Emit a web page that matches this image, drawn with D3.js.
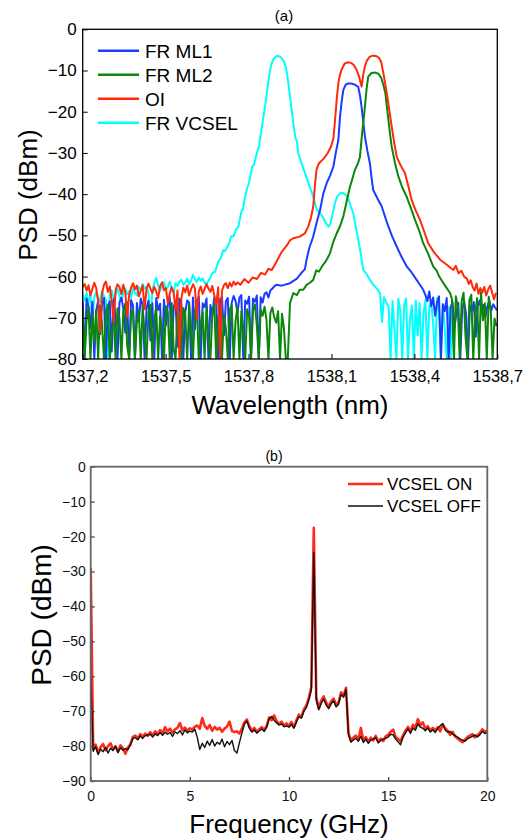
<!DOCTYPE html>
<html>
<head>
<meta charset="utf-8">
<script src="https://cdn.jsdelivr.net/npm/d3@7"></script>
<style>
body { margin: 0; background: #fff; }
text { font-family: "Liberation Sans", Arial, sans-serif; }
</style>
</head>
<body>
<div id="chart"></div>
<script>
// ---------- panel (a) data : optical spectra ----------
const wlTicks = [1537.2, 1537.5, 1537.8, 1538.1, 1538.4, 1538.7];
const psdTicksA = [0, -10, -20, -30, -40, -50, -60, -70, -80];
const seriesNamesA = ["FR ML1", "FR ML2", "OI", "FR VCSEL"];
const noiseStep = 0.007; // nm between noise-floor samples

// FR ML1 (blue)
const ml1LeftStart = 1537.2;
const ml1Left = [-66.0, -80.0, -65.4, -67.2, -72.5, -66.1, -80.0, -68.3, -65.8, -74.0,
  -66.7, -65.2, -80.0, -67.5, -66.0, -78.2, -65.5, -69.4, -80.0, -66.3,
  -65.1, -67.8, -73.6, -66.2, -80.0, -65.7, -67.0, -80.0, -66.4, -70.8,
  -65.3, -66.9, -80.0, -67.6, -65.9, -75.5, -66.5, -80.0, -65.2, -68.1,
  -66.6, -80.0, -65.6, -71.9, -66.8, -65.0, -80.0, -67.3, -66.1, -77.0,
  -65.4, -66.7, -80.0, -68.6, -65.8, -66.3, -80.0, -65.1, -72.8, -66.0,
  -64.8, -80.0, -66.5, -67.4, -65.3, -80.0, -66.9, -69.5, -65.0, -66.2,
  -80.0, -65.6, -64.9, -74.2, -66.0, -65.2, -80.0, -66.4, -64.7, -65.9,
  -68.8, -65.1, -64.5, -80.0, -65.8, -66.6, -64.9, -80.0, -65.3, -66.1,
  -64.6, -80.0, -65.0, -66.3, -64.2, -63.8, -65.1, -63.4, -62.9, -62.4, -62.0];
const ml1Peak = [[1537.92, -62.2], [1537.95, -61.6], [1537.975, -60.5], [1537.99, -59.2], [1538.004, -58.2],
  [1538.010, -55.9], [1538.02, -53], [1538.034, -50.3], [1538.046, -47], [1538.059, -43.8], [1538.07, -40],
  [1538.083, -37.3], [1538.095, -35.5], [1538.107, -33.3], [1538.117, -29.5], [1538.125, -26.8],
  [1538.131, -21.2], [1538.137, -17.5], [1538.143, -14.7], [1538.152, -13.4], [1538.162, -13.1],
  [1538.175, -13.2], [1538.186, -13.5], [1538.197, -14], [1538.203, -16], [1538.209, -18.8],
  [1538.215, -22.5], [1538.221, -26], [1538.230, -29.5], [1538.239, -32.5], [1538.245, -36],
  [1538.251, -39], [1538.266, -41], [1538.282, -43], [1538.294, -45.5], [1538.306, -47.9],
  [1538.320, -50.3], [1538.336, -52.7], [1538.352, -55], [1538.372, -57.5], [1538.39, -59],
  [1538.408, -60.8], [1538.42, -62], [1538.432, -63.2]];
const ml1RightStart = 1538.44;
const ml1Right = [-64.5, -66.0, -63.6, -67.2, -65.1, -69.5, -66.3, -64.8, -80.0, -66.7,
  -68.4, -65.2, -80.0, -67.6, -66.1, -72.3, -68.9, -66.4, -80.0, -67.8,
  -65.9, -69.1, -80.0, -67.0, -68.5, -66.2, -74.6, -67.4, -65.8, -68.0,
  -66.9, -69.8, -67.2, -65.9, -68.3, -66.7, -67.5, -68.2];

// FR ML2 (green)
const ml2LeftStart = 1537.2;
const ml2Left = [-68.0, -80.0, -70.5, -67.4, -80.0, -69.2, -75.8, -68.1, -80.0, -67.0,
  -71.6, -80.0, -68.5, -66.8, -80.0, -73.9, -69.0, -80.0, -67.7, -70.2,
  -80.0, -68.4, -66.5, -76.8, -80.0, -69.3, -67.9, -80.0, -71.0, -68.2,
  -80.0, -67.1, -74.5, -80.0, -68.8, -66.9, -80.0, -70.7, -67.5, -80.0,
  -69.6, -72.8, -80.0, -67.2, -68.7, -80.0, -66.4, -77.5, -80.0, -68.0,
  -70.3, -80.0, -67.6, -69.1, -80.0, -66.8, -73.2, -80.0, -68.3, -67.0,
  -80.0, -71.4, -68.6, -80.0, -67.3, -75.1, -80.0, -68.9, -66.6, -80.0,
  -70.0, -67.8, -80.0, -69.4, -72.6, -80.0, -68.1, -66.9, -80.0, -70.8,
  -67.4, -80.0, -68.5, -74.0, -80.0, -67.9, -69.7, -80.0, -68.2, -66.7,
  -71.9, -80.0, -68.0, -69.5, -67.3, -70.6, -80.0, -68.8, -67.5, -69.9,
  -71.2, -68.4, -80.0, -69.0, -72.5, -80.0];
const ml2Peak = [[1537.942, -80], [1537.95, -66.4], [1537.962, -64], [1537.975, -64.5], [1537.985, -63.2],
  [1537.998, -63.2], [1538.01, -62], [1538.022, -61.5], [1538.034, -60.8], [1538.045, -58.5],
  [1538.055, -58.8], [1538.066, -57.5], [1538.077, -56.5], [1538.086, -55.5], [1538.095, -54.3],
  [1538.107, -51.5], [1538.119, -49.5], [1538.131, -47.8], [1538.143, -45.4], [1538.155, -41.8],
  [1538.167, -38.2], [1538.176, -36.2], [1538.185, -34.1], [1538.196, -32.5], [1538.203, -31],
  [1538.207, -28], [1538.212, -24.5], [1538.215, -22.8], [1538.221, -18.8], [1538.227, -14.5],
  [1538.233, -11.5], [1538.245, -10.6], [1538.258, -10.5], [1538.270, -10.8], [1538.280, -11.8],
  [1538.288, -13.5], [1538.295, -15.5], [1538.300, -18.5], [1538.306, -22], [1538.312, -25.5],
  [1538.318, -28.5], [1538.330, -32.5], [1538.342, -35.7], [1538.357, -38.5], [1538.372, -40.6],
  [1538.388, -43.5], [1538.402, -46.2], [1538.418, -49], [1538.432, -51.9], [1538.45, -54.5],
  [1538.468, -57.5], [1538.48, -58.5], [1538.49, -60], [1538.505, -61.6], [1538.517, -62.8],
  [1538.529, -64]];
const ml2RightStart = 1538.536;
const ml2Right = [-65.5, -80.0, -64.8, -67.2, -80.0, -66.0, -63.9, -74.5, -80.0, -65.7,
  -64.4, -80.0, -68.9, -65.2, -80.0, -63.8, -70.6, -66.5, -80.0, -64.9,
  -67.8, -80.0, -70.2, -72.0];

// OI (red)
const oiLeftStart = 1537.2;
const oiLeft = [-62.5, -61.8, -63.4, -62.1, -64.6, -63.0, -61.5, -62.8, -66.2, -73.5,
  -64.1, -62.0, -61.2, -63.7, -62.4, -65.8, -71.0, -63.2, -61.9, -62.6,
  -64.3, -62.0, -63.8, -69.8, -64.5, -62.7, -61.6, -63.1, -62.2, -64.8,
  -63.5, -62.1, -67.9, -63.0, -61.7, -62.9, -64.0, -62.5, -63.6, -65.2,
  -62.3, -61.4, -63.3, -62.8, -66.5, -64.1, -62.6, -63.9, -68.2, -63.4,
  -80.0, -65.3, -62.7, -63.8, -62.2, -64.6, -63.1, -61.9, -62.8, -70.3,
  -63.6, -62.4, -64.2, -63.0, -61.8, -62.9, -63.7, -62.3, -64.5, -66.8,
  -62.6, -80.0, -63.4, -62.1, -61.6, -62.8, -61.5, -62.4, -61.2, -62.0, -61.4];
const oiPeak = [[1537.77, -62], [1537.785, -60.6], [1537.80, -61.5], [1537.815, -60.2], [1537.83, -60.6],
  [1537.845, -59.1], [1537.86, -59.5], [1537.872, -58.1], [1537.884, -58.4],
  [1537.90, -56.5], [1537.92, -54], [1537.938, -52.5], [1537.95, -51.2], [1537.962, -50.7],
  [1537.985, -50.3], [1538.004, -49.5], [1538.015, -48], [1538.025, -46], [1538.034, -43],
  [1538.040, -38], [1538.046, -34], [1538.055, -32.5], [1538.07, -31.5], [1538.085, -30.2],
  [1538.098, -28.5], [1538.107, -26.5], [1538.113, -22], [1538.119, -17], [1538.125, -13],
  [1538.131, -11], [1538.137, -9.7], [1538.148, -8.3], [1538.161, -8], [1538.172, -8.2],
  [1538.182, -8.8], [1538.192, -10], [1538.200, -11.5], [1538.209, -13.9], [1538.215, -11],
  [1538.221, -9], [1538.228, -7.6], [1538.238, -6.7], [1538.250, -6.4], [1538.262, -6.5],
  [1538.272, -6.9], [1538.280, -8], [1538.288, -10.7], [1538.295, -13.5], [1538.302, -16.3],
  [1538.310, -20], [1538.318, -23.6], [1538.327, -27.5], [1538.336, -30.9], [1538.350, -33],
  [1538.366, -34.9], [1538.378, -38], [1538.39, -41.4], [1538.405, -44], [1538.42, -46.2],
  [1538.435, -49], [1538.45, -51.9], [1538.47, -54], [1538.493, -55.9], [1538.515, -57],
  [1538.541, -58.4], [1538.55, -57.4], [1538.56, -59.2], [1538.57, -58.6], [1538.58, -60]];
const oiRightStart = 1538.59;
const oiRight = [-60.5, -61.8, -60.9, -62.6, -63.4, -61.7, -64.2, -62.8, -63.9, -62.5,
  -64.6, -63.1, -62.2, -63.8, -65.5, -64.0];

// FR VCSEL (cyan)
const vcLeftStart = 1537.2;
const vcLeft = [-64.5, -65.8, -63.9, -66.4, -64.2, -70.5, -65.0, -63.7, -64.9, -66.1,
  -63.5, -64.8, -65.6, -80.0, -64.1, -63.3, -65.2, -64.4, -63.0, -64.7,
  -66.0, -63.8, -62.9, -64.3, -63.6, -65.1, -62.8, -63.9, -64.6, -62.5,
  -63.4, -61.8, -63.0, -62.4, -64.0, -72.5, -63.2, -61.6, -60.3, -62.2,
  -63.5, -62.0, -61.4, -63.1, -62.6, -61.2, -62.9, -63.8, -61.6, -62.3,
  -61.2, -60.8, -62.0, -61.5, -60.5, -61.9, -61.0, -59.6, -60.7, -61.3,
  -60.2, -61.0, -60.4, -61.6];
const vcPeak = [[1537.649, -61.6], [1537.66, -60.5], [1537.67, -59.0], [1537.679, -58.9], [1537.69, -56.5],
  [1537.70, -55.5], [1537.708, -53.6], [1537.715, -53.8], [1537.73, -52], [1537.737, -50.2],
  [1537.745, -50.3], [1537.755, -48.6], [1537.763, -47.9], [1537.775, -44], [1537.78, -43.6],
  [1537.785, -41.5], [1537.793, -39], [1537.80, -37.6], [1537.805, -36.2], [1537.813, -33.4],
  [1537.82, -32.8], [1537.832, -29.5], [1537.838, -28.5],
  [1537.841, -26.8], [1537.850, -23], [1537.858, -19.5], [1537.868, -14.7], [1537.875, -11],
  [1537.882, -8.6], [1537.892, -7], [1537.905, -6.4], [1537.918, -6.8], [1537.928, -7.8],
  [1537.935, -9.1], [1537.942, -12], [1537.947, -14.7], [1537.955, -19], [1537.962, -22.8],
  [1537.970, -26.5], [1537.975, -27.2], [1537.980, -30.1], [1537.992, -32.5], [1538.004, -34.9], [1538.018, -37.5],
  [1538.034, -40.6], [1538.047, -43.8], [1538.058, -44.5], [1538.068, -45.5], [1538.080, -47],
  [1538.089, -47.9], [1538.097, -47], [1538.105, -44.5], [1538.113, -42], [1538.122, -40.5],
  [1538.131, -39.8], [1538.142, -39.7], [1538.152, -40.2], [1538.160, -41], [1538.170, -43],
  [1538.179, -44.6], [1538.188, -48], [1538.197, -51.1], [1538.206, -54.5], [1538.215, -58.3],
  [1538.228, -59.5], [1538.239, -60.8], [1538.252, -62], [1538.265, -63], [1538.276, -64],
  [1538.283, -71], [1538.29, -65], [1538.30, -66.5]];
const vcRightStart = 1538.307;
const vcRight = [-67.5, -80.0, -66.0, -72.8, -80.0, -65.4, -68.2, -80.0, -66.9, -65.3,
  -80.0, -70.1, -67.0, -80.0, -65.8, -74.3, -66.5, -80.0, -68.8, -65.6,
  -80.0, -67.3, -66.1, -71.5, -80.0, -65.2, -68.0, -80.0, -66.7, -73.0,
  -80.0, -67.4, -80.0, -69.5, -80.0];

// ---------- panel (b) data : RF spectra ----------
const freqTicks = [0, 5, 10, 15, 20];
const psdTicksB = [0, -10, -20, -30, -40, -50, -60, -70, -80, -90];
const seriesNamesB = ["VCSEL ON", "VCSEL OFF"];
const freqStep = 0.125; // GHz between samples, starting at 0
const vcselOn = [-29, -80.8, -79.6, -81.9, -80.3, -79.4, -81.2, -80.0, -79.2, -80.9,
  -80.1, -81.5, -79.8, -80.6, -82.2, -80.4, -79.5, -77.4, -77.0, -77.9,
  -76.6, -77.3, -76.4, -77.1, -76.0, -76.9, -75.8, -76.5, -75.4, -76.2,
  -74.6, -75.8, -75.0, -76.1, -75.2, -74.8, -73.4, -75.5, -74.7, -75.6,
  -74.9, -75.3, -74.5, -74.1, -75.0, -72.0, -74.2, -75.1, -74.0, -75.6,
  -74.5, -75.3, -74.8, -75.9, -75.0, -74.4, -73.0, -75.7, -76.0, -75.8,
  -76.4, -75.0, -73.2, -72.4, -74.3, -75.6, -74.8, -75.9, -75.2, -74.6,
  -75.4, -74.2, -71.8, -72.6, -71.2, -72.9, -73.6, -73.0, -74.1, -73.5,
  -74.2, -73.1, -74.5, -72.6, -71.0, -71.8, -69.5, -68.4, -66.2, -63.2,
  -17.5, -66.0, -69.2, -67.0, -65.8, -67.6, -68.8, -67.2, -66.4, -68.2,
  -67.5, -64.6, -65.6, -63.3, -76.2, -78.4, -77.6, -77.0, -78.2, -74.8,
  -78.5, -77.4, -78.8, -77.6, -78.4, -77.1, -78.7, -77.9, -78.6, -77.2,
  -76.8, -75.9, -75.3, -77.4, -78.0, -78.6, -76.9, -75.6, -74.5, -75.8,
  -73.9, -74.7, -72.3, -74.0, -73.2, -75.1, -74.3, -75.6, -74.8, -75.5,
  -74.6, -75.8, -73.8, -74.9, -75.6, -76.8, -75.9, -77.2, -77.8, -78.4,
  -78.9, -78.2, -77.4, -77.0, -76.6, -77.5, -76.9, -76.2, -75.2, -75.9, -75.6];
const vcselOff = [-60, -81.5, -80.2, -82.4, -80.9, -81.6, -80.4, -82.0, -80.6, -81.3,
  -80.0, -81.9, -80.5, -81.2, -80.7, -81.0, -79.8, -77.8, -77.6, -78.2,
  -77.1, -77.8, -77.0, -76.8, -76.6, -77.4, -76.5, -77.0, -76.2, -76.9,
  -76.0, -76.6, -76.1, -77.2, -75.9, -76.4, -75.6, -76.8, -75.4, -76.2,
  -75.7, -76.0, -75.2, -77.5, -81.0, -79.2, -80.4, -78.6, -79.8, -78.1,
  -80.0, -78.9, -79.5, -78.0, -80.2, -78.7, -79.6, -78.4, -81.3, -82.0,
  -79.0, -76.3, -73.8, -72.8, -74.9, -76.0, -75.4, -76.3, -75.7, -75.1,
  -75.8, -74.6, -72.2, -71.5, -72.6, -73.4, -74.0, -73.7, -74.5, -74.2,
  -74.6, -73.8, -74.9, -73.2, -71.6, -72.0, -70.0, -69.0, -66.8, -64.0,
  -24.5, -66.8, -69.6, -67.8, -66.5, -68.3, -69.3, -67.9, -67.0, -68.8,
  -68.0, -65.2, -66.0, -63.8, -76.8, -78.9, -78.2, -77.8, -78.6, -77.2,
  -79.0, -78.0, -79.2, -78.3, -78.0, -77.6, -79.1, -78.4, -78.0, -77.8,
  -77.4, -76.6, -76.8, -78.0, -78.8, -79.6, -77.5, -76.2, -75.1, -76.4,
  -74.8, -75.5, -73.6, -74.6, -74.9, -75.6, -74.8, -76.0, -75.3, -76.1,
  -75.0, -74.2, -73.5, -75.4, -76.0, -75.8, -76.6, -77.0, -77.4, -77.9,
  -78.3, -78.6, -77.9, -77.6, -77.2, -76.8, -77.4, -76.8, -75.8, -76.4, -76.1];

// ---------- helpers ----------
function onGrid(start, step, values) {
  return values.map((v, i) => [start + i * step, v]);
}
function buildSpectrum(leftStart, left, peak, rightStart, right) {
  return onGrid(leftStart, noiseStep, left).concat(peak, onGrid(rightStart, noiseStep, right));
}

const width = 531;
const height = 840;

const svg = d3.select('#chart')
  .append('svg')
  .attr('width', width)
  .attr('height', height);

// ================= panel (a) =================
const boxA = { left: 82.7, right: 497.3, top: 29.3, bottom: 359 };

const xA = d3.scaleLinear().domain([1537.2, 1538.7]).range([boxA.left, boxA.right]);
const yA = d3.scaleLinear().domain([-80, 0]).range([boxA.bottom, boxA.top]);

const colorA = { "FR ML1": "#1a3cff", "FR ML2": "#0b870b", "OI": "#ff2a0a", "FR VCSEL": "#00ffff" };
const spectraA = [
  { name: "FR VCSEL", data: buildSpectrum(vcLeftStart, vcLeft, vcPeak, vcRightStart, vcRight) },
  { name: "FR ML1", data: buildSpectrum(ml1LeftStart, ml1Left, ml1Peak, ml1RightStart, ml1Right) },
  { name: "FR ML2", data: buildSpectrum(ml2LeftStart, ml2Left, ml2Peak, ml2RightStart, ml2Right) },
  { name: "OI", data: buildSpectrum(oiLeftStart, oiLeft, oiPeak, oiRightStart, oiRight) }
];

svg.append('clipPath').attr('id', 'clipA')
  .append('rect')
  .attr('x', boxA.left).attr('y', boxA.top)
  .attr('width', boxA.right - boxA.left).attr('height', boxA.bottom - boxA.top);

const lineA = d3.line().x(d => xA(d[0])).y(d => yA(d[1]));

svg.append('g').attr('clip-path', 'url(#clipA)')
  .selectAll('path')
  .data(spectraA)
  .enter().append('path')
  .attr('d', d => lineA(d.data))
  .attr('fill', 'none')
  .attr('stroke', d => colorA[d.name])
  .attr('stroke-width', 2)
  .attr('stroke-linejoin', 'round');

// axes (a)
const axisA_x = svg.append('g')
  .attr('transform', `translate(0,${boxA.bottom})`)
  .call(d3.axisBottom(xA).tickValues(wlTicks).tickSize(-5).tickPadding(11)
    .tickFormat(d => d3.format('.1f')(d).replace('.', ',')));
const axisA_y = svg.append('g')
  .attr('transform', `translate(${boxA.left},0)`)
  .call(d3.axisLeft(yA).tickValues(psdTicksA).tickSize(-5).tickPadding(6).tickFormat(d3.format('d')));
[axisA_x, axisA_y].forEach(g => {
  g.select('.domain').remove();
  g.selectAll('text').attr('fill', '#000')
    .attr('font-family', '"Liberation Sans", Arial, sans-serif');
  g.selectAll('line').attr('stroke', '#000');
});
axisA_x.selectAll('text').attr('font-size', 16.5);
axisA_y.selectAll('text').attr('font-size', 17);

svg.append('rect')
  .attr('x', boxA.left).attr('y', boxA.top)
  .attr('width', boxA.right - boxA.left).attr('height', boxA.bottom - boxA.top)
  .attr('fill', 'none').attr('stroke', '#000').attr('stroke-width', 1.3);

svg.append('text').attr('x', 284).attr('y', 21).attr('text-anchor', 'middle')
  .attr('font-size', 15).text('(a)');
svg.append('text').attr('x', 290).attr('y', 414).attr('text-anchor', 'middle')
  .attr('font-size', 26).text('Wavelength (nm)');
svg.append('text').attr('transform', 'translate(37,195) rotate(-90)').attr('text-anchor', 'middle')
  .attr('font-size', 26).text('PSD (dBm)');

// legend (a)
const legA = svg.append('g').selectAll('g')
  .data(seriesNamesA)
  .enter().append('g')
  .attr('transform', (d, i) => `translate(98,${50.7 + i * 24})`);
legA.append('line').attr('x1', 0).attr('x2', 41)
  .attr('stroke', d => colorA[d]).attr('stroke-width', 2.5);
legA.append('text').attr('x', 47).attr('y', 7).attr('font-size', 19).text(d => d);

// ================= panel (b) =================
const boxB = { left: 90.7, right: 487.3, top: 466.7, bottom: 781 };

const xB = d3.scaleLinear().domain([0, 20]).range([boxB.left, boxB.right]);
const yB = d3.scaleLinear().domain([-90, 0]).range([boxB.bottom, boxB.top]);

const spectraB = [
  { name: seriesNamesB[0], color: "#ff2a1a", width: 2.6, data: onGrid(0, freqStep, vcselOn) },
  { name: seriesNamesB[1], color: "#111", width: 1.4, data: onGrid(0, freqStep, vcselOff) }
];

svg.append('clipPath').attr('id', 'clipB')
  .append('rect')
  .attr('x', boxB.left).attr('y', boxB.top)
  .attr('width', boxB.right - boxB.left).attr('height', boxB.bottom - boxB.top);

const lineB = d3.line().x(d => xB(d[0])).y(d => yB(d[1]));

svg.append('g').attr('clip-path', 'url(#clipB)')
  .selectAll('path')
  .data(spectraB)
  .enter().append('path')
  .attr('d', d => lineB(d.data))
  .attr('fill', 'none')
  .attr('stroke', d => d.color)
  .attr('stroke-width', d => d.width)
  .attr('stroke-linejoin', 'round');

const axisB_x = svg.append('g')
  .attr('transform', `translate(0,${boxB.bottom})`)
  .call(d3.axisBottom(xB).tickValues(freqTicks).tickSize(-4).tickPadding(10).tickFormat(d3.format('d')));
const axisB_y = svg.append('g')
  .attr('transform', `translate(${boxB.left},0)`)
  .call(d3.axisLeft(yB).tickValues(psdTicksB).tickSize(-4).tickPadding(5).tickFormat(d3.format('d')));
[axisB_x, axisB_y].forEach(g => {
  g.select('.domain').remove();
  g.selectAll('text').attr('font-size', 14).attr('fill', '#111')
    .attr('font-family', '"Liberation Sans", Arial, sans-serif');
  g.selectAll('line').attr('stroke', '#444').attr('stroke-width', 1.3);
});

svg.append('rect')
  .attr('x', boxB.left).attr('y', boxB.top)
  .attr('width', boxB.right - boxB.left).attr('height', boxB.bottom - boxB.top)
  .attr('fill', 'none').attr('stroke', '#666').attr('stroke-width', 1.8);

svg.append('text').attr('x', 274).attr('y', 461).attr('text-anchor', 'middle')
  .attr('font-size', 14).text('(b)');
svg.append('text').attr('x', 289).attr('y', 833).attr('text-anchor', 'middle')
  .attr('font-size', 26).text('Frequency (GHz)');
svg.append('text').attr('transform', 'translate(51,615) rotate(-90)').attr('text-anchor', 'middle')
  .attr('font-size', 28).text('PSD (dBm)');

// legend (b)
const legB = svg.append('g').selectAll('g')
  .data(spectraB)
  .enter().append('g')
  .attr('transform', (d, i) => `translate(348,${484 + i * 22})`);
legB.append('line').attr('x1', 0).attr('x2', 35)
  .attr('stroke', d => d.color).attr('stroke-width', d => d.width);
legB.append('text').attr('x', 39).attr('y', 6).attr('font-size', 17).text(d => d.name);
</script>
</body>
</html>
